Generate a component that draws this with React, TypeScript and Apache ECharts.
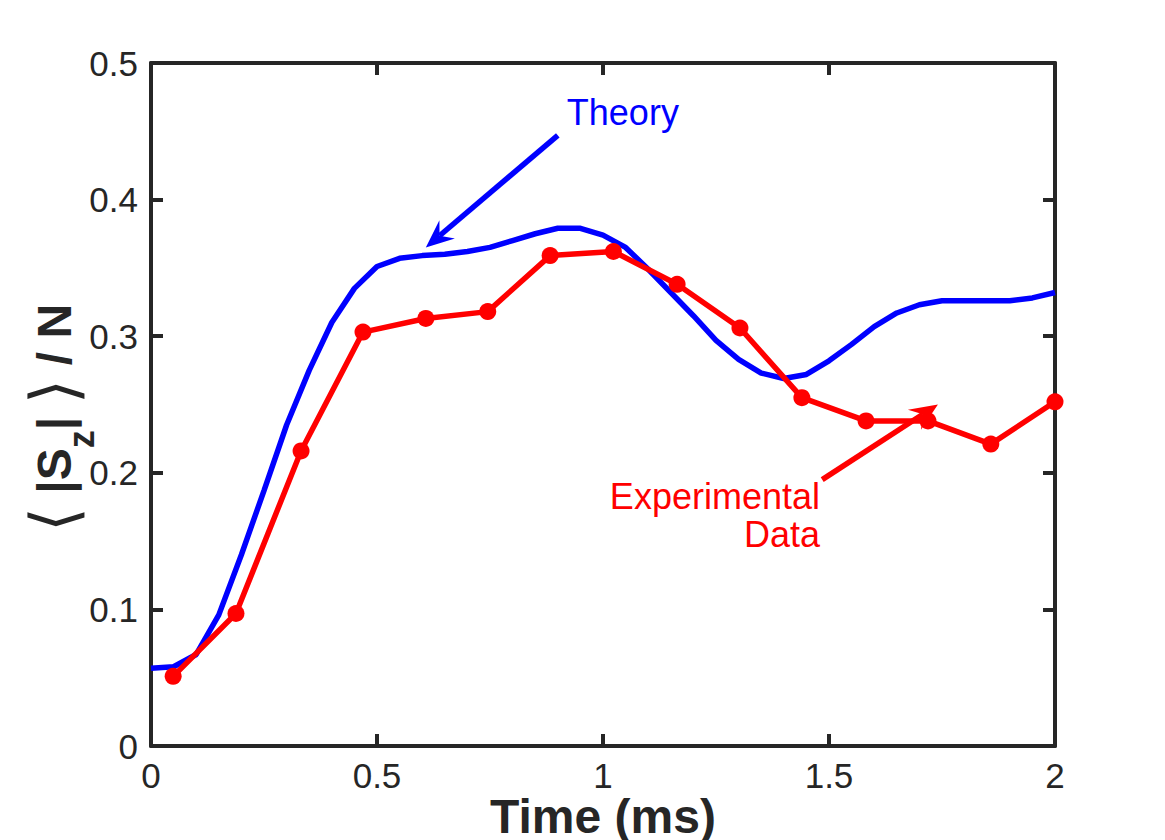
import React, { useEffect, useRef } from "react";
import * as echarts from "echarts";

// Theory curve, sampled every 0.05 ms
const theoryTime = [
  0, 0.05, 0.1, 0.15, 0.2, 0.25, 0.3, 0.35, 0.4, 0.45, 0.5, 0.55, 0.6, 0.65, 0.7, 0.75, 0.8, 0.85, 0.9, 0.95,
  1.0, 1.05, 1.1, 1.15, 1.2, 1.25, 1.3, 1.35, 1.4, 1.45, 1.5, 1.55, 1.6, 1.65, 1.7, 1.75, 1.8, 1.85, 1.9, 1.95, 2.0,
];
const theoryValue = [
  0.057, 0.058, 0.067, 0.096, 0.14, 0.187, 0.235, 0.275, 0.31, 0.335, 0.351, 0.357, 0.359, 0.36, 0.362, 0.365,
  0.37, 0.375, 0.379, 0.379, 0.374, 0.365, 0.349, 0.332, 0.315, 0.297, 0.283, 0.273, 0.269, 0.272, 0.282, 0.294,
  0.307, 0.317, 0.323, 0.326, 0.326, 0.326, 0.326, 0.328, 0.332,
];

// Measured points
const expTime = [0.049, 0.188, 0.332, 0.469, 0.608, 0.745, 0.883, 1.023, 1.164, 1.303, 1.44, 1.582, 1.719, 1.858, 2.0];
const expValue = [0.051, 0.097, 0.216, 0.303, 0.313, 0.318, 0.359, 0.362, 0.338, 0.306, 0.255, 0.238, 0.238, 0.221, 0.252];

// Annotation anchors in data units: [tail, tip]
const theoryArrow = [
  [0.9, 0.447],
  [0.608, 0.365],
];
const expArrow = [
  [1.485, 0.195],
  [1.741, 0.25],
];
const theoryLabelAt = [0.92, 0.4634];
const expLabelAt = [1.48, 0.1823];
const dataLabelAt = [1.48, 0.1545];

const AXIS = "#262626";
const BLUE = "#0000ff";
const RED = "#ff0000";
const FONT = "'Liberation Sans', Arial, sans-serif";

function arrow(chart: any, tail: number[], tip: number[], color: string) {
  const [x1, y1] = chart.convertToPixel({ gridIndex: 0 }, tail);
  const [x2, y2] = chart.convertToPixel({ gridIndex: 0 }, tip);
  const dx = x2 - x1;
  const dy = y2 - y1;
  const len = Math.hypot(dx, dy);
  const ux = dx / len;
  const uy = dy / len;
  const nx = -uy;
  const ny = ux;
  const headLen = 28;
  const headHalf = 12;
  const notch = 18;
  const bx = x2 - ux * headLen;
  const by = y2 - uy * headLen;
  const mx = x2 - ux * notch;
  const my = y2 - uy * notch;
  return [
    {
      type: "line",
      silent: true,
      z: 100,
      shape: { x1, y1, x2: mx, y2: my },
      style: { stroke: color, lineWidth: 5.5 },
    },
    {
      type: "polygon",
      silent: true,
      z: 100,
      shape: {
        points: [
          [x2, y2],
          [bx + nx * headHalf, by + ny * headHalf],
          [mx, my],
          [bx - nx * headHalf, by - ny * headHalf],
        ],
      },
      style: { fill: color },
    },
  ];
}

function label(chart: any, at: number[], text: string, color: string, align: string) {
  const [x, y] = chart.convertToPixel({ gridIndex: 0 }, at);
  return {
    type: "text",
    silent: true,
    z: 100,
    x,
    y,
    style: {
      text,
      fill: color,
      font: `36px ${FONT}`,
      align,
      verticalAlign: "middle",
    },
  };
}

export default function App() {
  const ref = useRef<HTMLDivElement>(null);

  useEffect(() => {
    const chart = echarts.init(ref.current as HTMLDivElement, null, { renderer: "svg" });

    const axisCommon = {
      type: "value",
      axisLine: { show: true, onZero: false, lineStyle: { color: AXIS, width: 4 } },
      axisTick: { show: true, inside: true, length: 12, lineStyle: { color: AXIS, width: 4 } },
      splitLine: { show: false },
    };

    chart.setOption({
      animation: false,
      backgroundColor: "#ffffff",
      textStyle: { fontFamily: FONT },
      grid: {
        left: 151,
        right: 110,
        top: 63,
        bottom: 94,
        containLabel: false,
        outerBoundsMode: "none",
      },
      xAxis: [
        {
          ...axisCommon,
          position: "bottom",
          min: 0,
          max: 2,
          interval: 0.5,
          axisLabel: { color: AXIS, fontSize: 35, lineHeight: 34, margin: 12, fontFamily: FONT },
          name: "Time (ms)",
          nameLocation: "middle",
          nameGap: 50,
          nameMoveOverlap: false,
          nameTextStyle: {
            color: AXIS,
            fontSize: 48,
            fontWeight: "bold",
            fontFamily: FONT,
            lineHeight: 40,
          },
        },
        {
          ...axisCommon,
          position: "top",
          min: 0,
          max: 2,
          interval: 0.5,
          axisLabel: { show: false },
        },
      ],
      yAxis: [
        {
          ...axisCommon,
          position: "left",
          min: 0,
          max: 0.5,
          interval: 0.1,
          axisLabel: { color: AXIS, fontSize: 35, margin: 13, fontFamily: FONT },
        },
        {
          ...axisCommon,
          position: "right",
          min: 0,
          max: 0.5,
          interval: 0.1,
          axisLabel: { show: false },
        },
      ],
      series: [
        {
          name: "Theory",
          type: "line",
          xAxisIndex: 0,
          yAxisIndex: 0,
          data: theoryTime.map((t, i) => [t, theoryValue[i]]),
          showSymbol: false,
          symbol: "none",
          lineStyle: { color: BLUE, width: 5.5 },
          z: 2,
        },
        {
          name: "Experimental Data",
          type: "line",
          xAxisIndex: 0,
          yAxisIndex: 0,
          data: expTime.map((t, i) => [t, expValue[i]]),
          symbol: "circle",
          symbolSize: 17,
          itemStyle: { color: RED },
          lineStyle: { color: RED, width: 5.5 },
          z: 3,
        },
      ],
    });

    const yTitle = {
      type: "text",
      silent: true,
      x: 54,
      y: 418,
      rotation: Math.PI / 2,
      style: {
        text: "{br|⟨}{b| |S}{sub|z}{b|| }{br|⟩}{b| / N}",
        align: "center",
        verticalAlign: "middle",
        rich: {
          b: { fontSize: 48, fontWeight: "bold", fontFamily: FONT, fill: AXIS, lineHeight: 90 },
          br: {
            fontSize: 64,
            fontWeight: 200,
            fontFamily: "'DejaVu Sans'",
            fill: AXIS,
            lineHeight: 90,
          },
          sub: {
            fontSize: 36,
            fontWeight: "bold",
            fontFamily: FONT,
            fill: AXIS,
            lineHeight: 36,
            verticalAlign: "bottom",
          },
        },
      },
    };

    chart.setOption({
      graphic: [
        yTitle,
        ...arrow(chart, theoryArrow[0], theoryArrow[1], BLUE),
        ...arrow(chart, expArrow[0], expArrow[1], RED),
        label(chart, theoryLabelAt, "Theory", BLUE, "left"),
        label(chart, expLabelAt, "Experimental", RED, "right"),
        label(chart, dataLabelAt, "Data", RED, "right"),
      ],
    });

    return () => chart.dispose();
  }, []);

  return (
    <div
      ref={ref}
      style={{ position: "fixed", left: 0, top: 0, width: 1165, height: 840, background: "#ffffff" }}
    />
  );
}
